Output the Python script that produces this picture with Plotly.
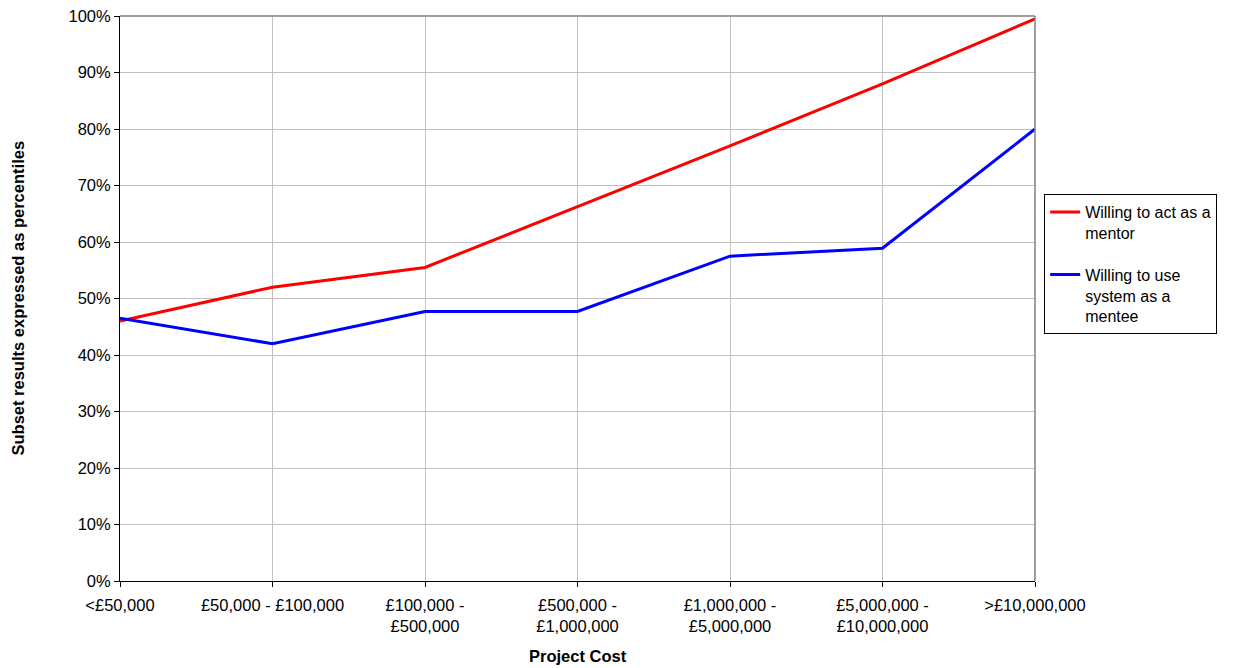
import plotly.graph_objects as go

categories = ["<£50,000", "£50,000 - £100,000", "£100,000 -<br>£500,000",
              "£500,000 -<br>£1,000,000", "£1,000,000 -<br>£5,000,000",
              "£5,000,000 -<br>£10,000,000", ">£10,000,000"]
mentor = [46.0, 52.0, 55.5, 66.2, 77.0, 88.0, 99.5]
mentee = [46.5, 42.0, 47.7, 47.7, 57.5, 58.9, 80.0]
y_ticks = list(range(0, 101, 10))
y_tick_labels = [f"{v}%" for v in y_ticks]

font_family = "Liberation Sans, Arial, sans-serif"
fs = 16.5

fig = go.Figure()
fig.add_trace(go.Scatter(x=categories, y=mentor, mode="lines",
                         name="Willing to act as a<br>mentor", legendgroup="mentor",
                         line=dict(color="#ff0000", width=3)))
fig.add_trace(go.Scatter(x=categories, y=mentee, mode="lines",
                         name="Willing to use<br>system as a<br>mentee", legendgroup="mentee",
                         line=dict(color="#0000ff", width=3)))

# grey frame along the top and right edges of the plot area
fig.add_shape(type="line", xref="paper", yref="paper", x0=0, x1=1, y0=1, y1=1,
              line=dict(color="#808080", width=1.5))
fig.add_shape(type="line", xref="paper", yref="paper", x0=1, x1=1, y0=0, y1=1,
              line=dict(color="#808080", width=1.5))

# axis titles
fig.add_annotation(text="<b>Project Cost</b>", xref="paper", yref="paper",
                   x=0.5, y=-75 / 565, xanchor="center", yanchor="middle",
                   showarrow=False, font=dict(size=fs))
fig.add_annotation(text="<b>Subset results expressed as percentiles</b>",
                   xref="paper", yref="paper", x=-103 / 915, y=0.5,
                   xanchor="center", yanchor="middle", textangle=-90,
                   showarrow=False, font=dict(size=fs))

fig.update_layout(
    width=1237, height=668,
    margin=dict(l=120, r=202, t=16, b=87, autoexpand=False),
    paper_bgcolor="white", plot_bgcolor="white",
    font=dict(family=font_family, size=fs, color="black"),
    showlegend=True,
    legend=dict(x=1.01, y=(581 - 194) / 565, xanchor="left", yanchor="top",
                bordercolor="black", borderwidth=1, bgcolor="white",
                font=dict(size=16), traceorder="grouped", tracegroupgap=18,
                itemwidth=30, valign="top"),
    xaxis=dict(type="category", range=[0, 6], showgrid=True, gridcolor="#c0c0c0",
               gridwidth=1, showline=True, linecolor="black", linewidth=1,
               ticks="outside", ticklen=5, tickcolor="black", ticklabelstandoff=4,
               tickangle=0, zeroline=False, automargin=False),
    yaxis=dict(range=[0, 100], tickvals=y_ticks, ticktext=y_tick_labels,
               showgrid=True, gridcolor="#c0c0c0", gridwidth=1,
               showline=True, linecolor="black", linewidth=1,
               ticks="outside", ticklen=5, tickcolor="black",
               zeroline=False, automargin=False),
)

fig.write_html("out.html")
